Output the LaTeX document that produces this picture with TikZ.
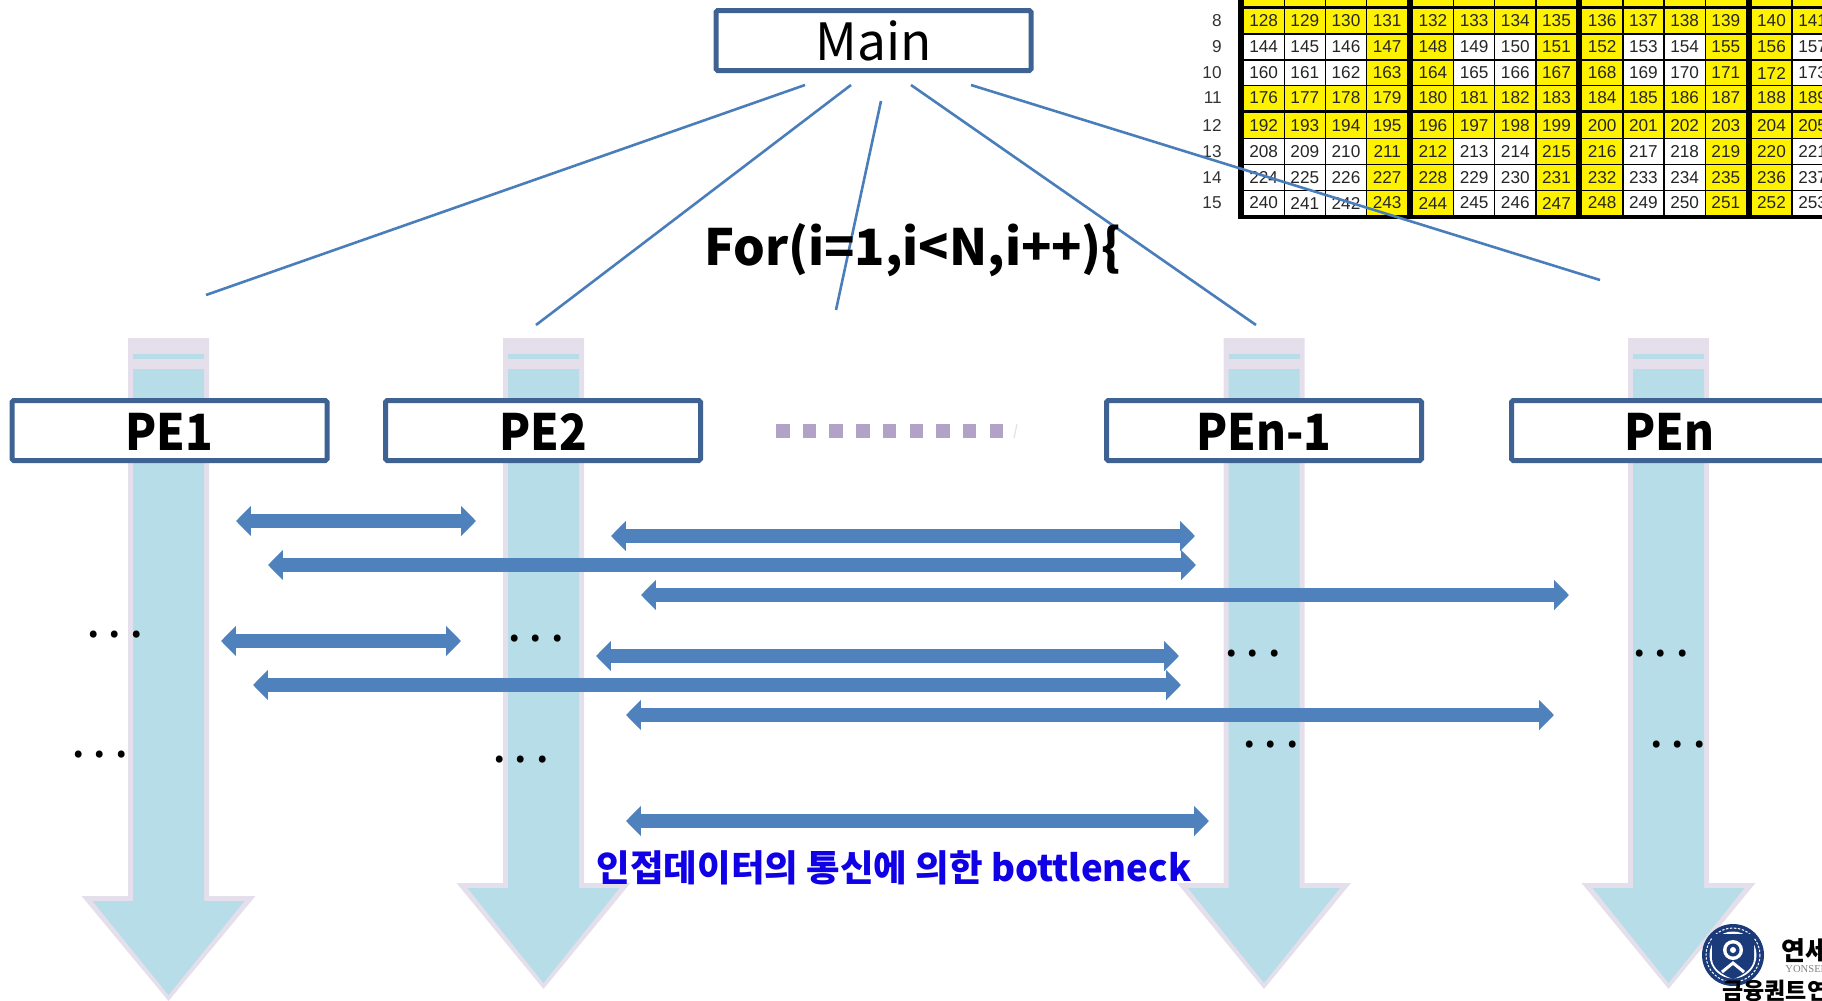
\documentclass[tikz,border=0pt]{standalone}
\usepackage{fontspec}
\setmainfont{Noto Sans CJK KR}
\newfontfamily\tablefont{Liberation Sans}
\newfontfamily\crestfont{Liberation Serif}
\usetikzlibrary{arrows.meta}
\definecolor{BoxClr}{RGB}{62,98,146}
\definecolor{ShaftClr}{RGB}{183,221,232}
\definecolor{EdgeClr}{RGB}{229,223,236}
\definecolor{MsgClr}{RGB}{79,129,189}
\definecolor{FeedClr}{RGB}{74,126,187}
\definecolor{GapClr}{RGB}{178,162,199}
\definecolor{NoteClr}{RGB}{16,0,230}
\definecolor{CrestClr}{RGB}{27,58,122}
\newcommand{\petext}[1]{\scalebox{.91}[1]{#1}}
\tikzset{
  pebox/.style={draw=BoxClr,line width=2.5pt,fill=white,rounded corners=.8pt,minimum width=157.5pt,minimum height=30pt,inner sep=0pt,text height=20pt,text depth=0pt},
  pelabel/.style={pebox,font=\bfseries\fontsize{25pt}{26pt}\selectfont},
  feedline/.style={draw=FeedClr,line width=1.3pt},
  msgarrow/.style={draw=MsgClr,line width=7.4pt,{Triangle[length=7.4pt,width=14.6pt]}-{Triangle[length=7.4pt,width=14.6pt]}},
  cell/.style={inner sep=0pt,minimum width=19.9pt,minimum height=12.25pt,font=\tablefont\fontsize{8.6pt}{10pt}\selectfont,text=black!85},
  rowlabel/.style={inner sep=0pt,anchor=east,font=\tablefont\fontsize{8.6pt}{10pt}\selectfont,text=black!80},
  dotsmark/.style={inner sep=0pt,anchor=base,font=\fontsize{26pt}{26pt}\selectfont}
}

\begin{document}
\begin{tikzpicture}[x=.5pt,y=-.5pt]
\useasboundingbox (0,0) rectangle (1822,1001);
\clip (0,0) rectangle (1822,1001);

% The table of numbers, top right
\fill[black] (1238,-5) rectangle (1830,219);
\foreach \row/\ypos in {7/-6,8/21,9/47,10/73,11/98,12/125.5,13/151.5,14/177.5,15/203}{
  \node[rowlabel] (lab\row) at (1222,\ypos) {\row};
  \foreach \col in {0,...,13}{
    \pgfmathtruncatemacro\val{16*\row+\col}
    \pgfmathtruncatemacro\isY{(\row==7||\row==8||\row==11||\row==12||(\col>0&&(mod(\col,4)==0||mod(\col,4)==3)))?1:0}
    \pgfmathsetmacro\xpos{1263.6+169.3*floor(\col/4)+41.2*mod(\col,4)}
    \ifnum\isY=1 \def\cellfill{yellow}\else \def\cellfill{white}\fi
    \node[cell,fill=\cellfill] (c\val) at (\xpos,\ypos) {\val};
  }
}

% The big arrows going down
\foreach \cx/\hy/\tip in {168.5/896/1001,543.5/883/989,1264/883/989,1668.5/883/989}{
  \fill[EdgeClr] ({\cx-40.5},338) -- ({\cx+40.5},338) -- ({\cx+40.5},\hy) -- ({\cx+87},\hy) -- (\cx,\tip) -- ({\cx-87},\hy) -- ({\cx-40.5},\hy) -- cycle;
  \fill[ShaftClr] ({\cx-35.5},369) -- ({\cx+35.5},369) -- ({\cx+35.5},\hy+5) -- ({\cx+76},\hy+5) -- (\cx,\tip-6) -- ({\cx-76},\hy+5) -- ({\cx-35.5},\hy+5) -- cycle;
  \fill[ShaftClr] ({\cx-35.5},354) rectangle ({\cx+35.5},359);
}

% Lines from Main
\foreach \n/\xa/\ya/\xb/\yb in {1/805/85/206/295,2/851/85/536/325,3/881/101/836/310,4/911/85/1256/325,5/971/85/1600/280}{
  \coordinate (mainfoot\n) at (\xa,\ya);
  \coordinate (petop\n) at (\xb,\yb);
  \draw[feedline] (mainfoot\n) -- (petop\n);
}

\node[pebox,font=\fontsize{25.7pt}{26pt}\selectfont] (main) at (873.5,40.5) {Main};
\node[inner sep=0pt,anchor=base,font=\bfseries\fontsize{25pt}{26pt}\selectfont] (forline) at (913,265) {For(i=1,i<N,i++)\{};

\node[pelabel] (pe1) at (169.5,430.5) {\petext{PE1}};
\node[pelabel] (pe2) at (543,430.5) {\petext{PE2}};
\node[pelabel] (pen1) at (1264,430.5) {\petext{PEn-1}};
\node[pelabel] (pen) at (1669,430.5) {\petext{PEn}};

% Dotted gap between PE2 and PEn-1
\coordinate (gapL) at (776,431);
\coordinate (gapR) at (1003,431);
\draw[GapClr,line width=7pt,dash pattern=on 6.75pt off 6.6pt] (gapL) -- (gapR);
\coordinate (gapA) at (1014,438);
\coordinate (gapB) at (1017,424);
\draw[EdgeClr,line width=.6pt] (gapA) -- (gapB);

% Messages
\foreach \n/\xa/\xb/\ypos in {1/236/476/521,2/268/1196/565,3/611/1195/536,4/641/1569/595,5/221/461/641,6/253/1181/685,7/596/1179/656,8/626/1554/715,9/626/1209/821}{
  \coordinate (msgL\n) at (\xa,\ypos);
  \coordinate (msgR\n) at (\xb,\ypos);
  \draw[msgarrow] (msgL\n) -- (msgR\n);
}

\foreach \n/\xa/\ya in {1/115/633,2/100/753,3/536/637,4/521/758,5/1253/652,6/1271/743,7/1661/652,8/1678/743}{
  \node[dotsmark] (dots\n) at (\xa,\ya+4) {.\kern3.4pt.\kern3.4pt.};
}

\node[inner sep=0pt,anchor=base,text=NoteClr,font=\bfseries\fontsize{18.25pt}{20pt}\selectfont] (note) at (894,881) {인접데이터의 통신에 의한 bottleneck};

% Crest, bottom right
\fill[CrestClr] (1733,955) circle (31);
\draw[white,line width=.5pt,dash pattern=on 1.2pt off .8pt] (1733,955) circle (27);
\fill[white] (1733,955) circle (23.5);
\fill[CrestClr] (1712,934) -- (1754,934) -- (1754,958) .. controls (1754,968) and (1744,975) .. (1733,979) .. controls (1722,975) and (1712,968) .. (1712,958) -- cycle;
\fill[white] (1733,950) circle (10);
\fill[CrestClr] (1733,950) circle (6.5);
\fill[white] (1733,950) circle (3);
\draw[white,line width=1.5pt] (1722,972) -- (1733,963) -- (1744,972);

\node[inner sep=0pt,anchor=base west,font=\bfseries\fontsize{13pt}{14pt}\selectfont] (univ) at (1781,960) {연세};
\node[inner sep=0pt,anchor=base west,text=black!50,font=\crestfont\fontsize{5.3pt}{6pt}\selectfont] (univen) at (1785,972) {YONSEI};
\node[inner sep=0pt,anchor=base west,font=\bfseries\fontsize{11.5pt}{12pt}\selectfont] (dept) at (1722,999) {금융퀀트연};

\end{tikzpicture}
\end{document}
